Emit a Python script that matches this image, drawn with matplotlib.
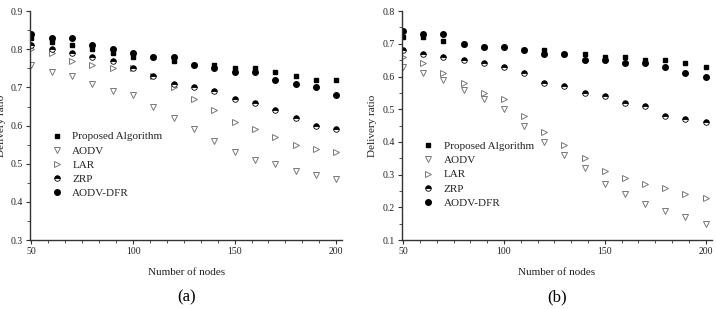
import matplotlib
matplotlib.use("Agg")
import matplotlib.pyplot as plt
from matplotlib.ticker import AutoMinorLocator, MultipleLocator

plt.rcParams["font.family"] = ["Liberation Serif", "DejaVu Serif"]

nodes = [50, 60, 70, 80, 90, 100, 110, 120, 130, 140, 150, 160, 170, 180, 190, 200]

# (a)
a_proposed = [0.83, 0.82, 0.81, 0.80, 0.79, 0.78, 0.78, 0.77, 0.76, 0.76, 0.75, 0.75, 0.74, 0.73, 0.72, 0.72]
a_aodv = [0.76, 0.74, 0.73, 0.71, 0.69, 0.68, 0.65, 0.62, 0.59, 0.56, 0.53, 0.51, 0.50, 0.48, 0.47, 0.46]
a_lar = [0.80, 0.79, 0.77, 0.76, 0.75, 0.75, 0.73, 0.70, 0.67, 0.64, 0.61, 0.59, 0.57, 0.55, 0.54, 0.53]
a_zrp = [0.81, 0.80, 0.79, 0.78, 0.77, 0.75, 0.73, 0.71, 0.70, 0.69, 0.67, 0.66, 0.64, 0.62, 0.60, 0.59]
a_dfr = [0.84, 0.83, 0.83, 0.81, 0.80, 0.79, 0.78, 0.78, 0.76, 0.75, 0.74, 0.74, 0.72, 0.71, 0.70, 0.68]

# (b)
b_proposed = [0.72, 0.72, 0.71, 0.70, 0.69, 0.69, 0.68, 0.68, 0.67, 0.67, 0.66, 0.66, 0.65, 0.65, 0.64, 0.63]
b_aodv = [0.63, 0.61, 0.59, 0.56, 0.53, 0.50, 0.45, 0.40, 0.36, 0.32, 0.27, 0.24, 0.21, 0.19, 0.17, 0.15]
b_lar = [0.66, 0.64, 0.61, 0.58, 0.55, 0.53, 0.48, 0.43, 0.39, 0.35, 0.31, 0.29, 0.27, 0.26, 0.24, 0.23]
b_zrp = [0.68, 0.67, 0.66, 0.65, 0.64, 0.63, 0.61, 0.58, 0.57, 0.55, 0.54, 0.52, 0.51, 0.48, 0.47, 0.46]
b_dfr = [0.74, 0.73, 0.73, 0.70, 0.69, 0.69, 0.68, 0.67, 0.67, 0.65, 0.65, 0.64, 0.64, 0.63, 0.61, 0.60]

labels = ["Proposed Algorithm", "AODV", "LAR", "ZRP", "AODV-DFR"]
styles = [
    dict(marker="s", color="black", mfc="black", mec="black", ms=3.5),
    dict(marker="v", color="#777777", mfc="white", mec="#777777", ms=4.5, mew=0.7),
    dict(marker=">", color="#777777", mfc="white", mec="#777777", ms=4.5, mew=0.7),
    dict(marker="o", color="black", mfc="black", mec="black", ms=4, fillstyle="top",
         markerfacecoloralt="white", mew=0.6),
    dict(marker="o", color="black", mfc="black", mec="black", ms=4),
]

fig = plt.figure(figsize=(7.16, 3.09), dpi=100)
panels = [
    ([0.042, 0.223, 0.436, 0.741], [a_proposed, a_aodv, a_lar, a_zrp, a_dfr],
     (0.3, 0.9), "(a)", (0.05, 0.163)),
    ([0.561, 0.223, 0.433, 0.741], [b_proposed, b_aodv, b_lar, b_zrp, b_dfr],
     (0.1, 0.8), "(b)", (0.05, 0.121)),
]

for rect, series, ylim, tag, leg_anchor in panels:
    ax = fig.add_axes(rect)
    for ys, lab, st in zip(series, labels, styles):
        ax.plot(nodes, ys, ls="none", label=lab, **st)
    ax.set_xlim(49.3, 203)
    ax.set_ylim(*ylim)
    ax.xaxis.set_major_locator(MultipleLocator(50))
    ax.xaxis.set_minor_locator(AutoMinorLocator(6))
    ax.yaxis.set_major_locator(MultipleLocator(0.1))
    ax.yaxis.set_minor_locator(AutoMinorLocator(2))
    ax.yaxis.set_major_formatter(plt.FuncFormatter(lambda v, p: f"{v:.1f}"))
    for s in ("top", "right"):
        ax.spines[s].set_visible(False)
    for s in ("left", "bottom"):
        ax.spines[s].set_color("#333333")
        ax.spines[s].set_linewidth(1.0)
    ax.tick_params(which="major", length=3, width=0.8, labelsize=7, color="#333333",
                   labelcolor="#222222", pad=2)
    ax.tick_params(which="minor", length=2, width=0.6, color="#333333")
    ax.set_xlabel("Number of nodes", fontsize=8, color="#222222")
    ax.xaxis.set_label_coords(0.5, -0.122)
    ax.set_ylabel("Delivery ratio", fontsize=8, color="#222222")
    ax.yaxis.set_label_coords(-0.078, 0.5)
    ax.legend(loc="lower left", bbox_to_anchor=leg_anchor, frameon=False, fontsize=8,
              handletextpad=0.8, labelspacing=0.4, borderaxespad=0, handlelength=1.2,
              labelcolor="#222222")
    ax.text(0.5, -0.249, tag, transform=ax.transAxes, ha="center", va="center",
            fontsize=12)

fig.savefig("out.png", dpi=100)
